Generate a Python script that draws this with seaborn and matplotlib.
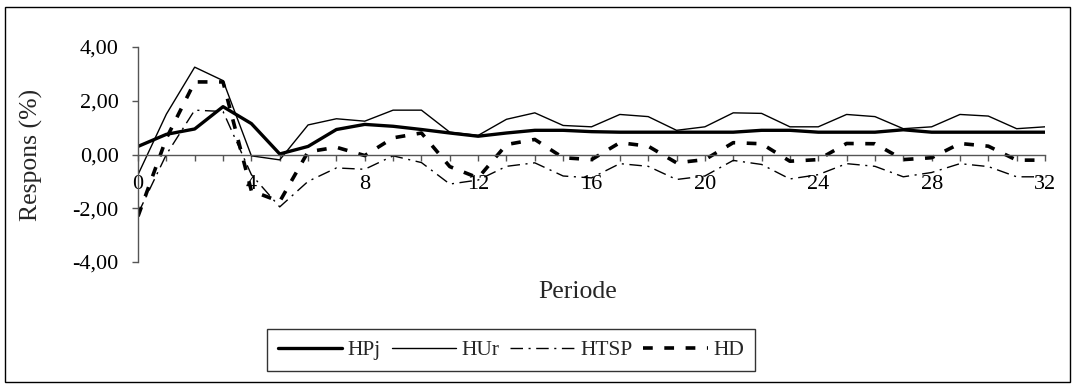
import numpy as np
import pandas as pd
import seaborn as sns
import matplotlib.pyplot as plt
from matplotlib.patches import Rectangle

# Impulse responses, periods 0..32
periode = list(range(33))
hpj = [0.30, 0.75, 0.95, 1.78, 1.15, 0.02, 0.30, 0.93, 1.12, 1.05, 0.93, 0.80, 0.68,
       0.80, 0.90, 0.90, 0.85, 0.83, 0.83, 0.83, 0.83, 0.83, 0.90, 0.90, 0.83, 0.83,
       0.83, 0.92, 0.83, 0.83, 0.83, 0.83, 0.83]
hur = [-0.75, 1.50, 3.25, 2.75, -0.05, -0.20, 1.10, 1.33, 1.24, 1.65, 1.65, 0.83, 0.71,
       1.31, 1.55, 1.08, 1.03, 1.49, 1.41, 0.90, 1.03, 1.55, 1.53, 1.03, 1.03, 1.49,
       1.41, 0.96, 1.03, 1.49, 1.43, 0.96, 1.03]
htsp = [-2.20, 0.00, 1.65, 1.60, -0.75, -1.95, -1.00, -0.50, -0.55, -0.05, -0.30, -1.10,
        -0.95, -0.44, -0.31, -0.80, -0.87, -0.34, -0.44, -0.93, -0.80, -0.22, -0.37,
        -0.91, -0.75, -0.34, -0.44, -0.83, -0.67, -0.34, -0.45, -0.83, -0.83]
hd = [-2.30, 0.60, 2.70, 2.70, -1.35, -1.75, 0.10, 0.27, -0.04, 0.62, 0.80, -0.45, -0.87,
      0.37, 0.56, -0.12, -0.19, 0.44, 0.31, -0.31, -0.19, 0.44, 0.40, -0.25, -0.19,
      0.41, 0.40, -0.19, -0.12, 0.41, 0.31, -0.21, -0.21]

df = pd.DataFrame({'Periode': periode, 'HPj': hpj, 'HUr': hur, 'HTSP': htsp, 'HD': hd})

sns.set_theme(style="white")
plt.rcParams['font.family'] = ['Liberation Serif', 'DejaVu Serif']

W, H = 1074, 385
fig = plt.figure(figsize=(W / 100, H / 100), dpi=100)
fig.patch.set_facecolor('white')

# plot area in pixel coords: x 138..1045, y(4)=47, y(-4)=262
ax = fig.add_axes([138 / W, 1 - 262 / H, (1045 - 138) / W, (262 - 47) / H])
ax.set_facecolor('none')

sns.lineplot(data=df, x='Periode', y='HPj', ax=ax, color='black', linewidth=2.4,
             label='HPj', solid_joinstyle='round')
sns.lineplot(data=df, x='Periode', y='HUr', ax=ax, color='black', linewidth=1.0,
             label='HUr')
sns.lineplot(data=df, x='Periode', y='HTSP', ax=ax, color='black', linewidth=1.0,
             linestyle=(0, (9, 4, 1.5, 4)), label='HTSP')
sns.lineplot(data=df, x='Periode', y='HD', ax=ax, color='black', linewidth=2.6,
             linestyle=(0, (2.7, 3.2)), label='HD')

ax.set_xlim(0, 32)
ax.set_ylim(-4, 4)
ax.set_xlabel('')
ax.set_ylabel('')

# axes: left spine and a horizontal axis crossing at zero
for s in ['top', 'right']:
    ax.spines[s].set_visible(False)
ax.spines['bottom'].set_position(('data', 0))
for s in ['left', 'bottom']:
    ax.spines[s].set_color('#555555')
    ax.spines[s].set_linewidth(1.0)
ax.set_zorder(1)

ax.set_xticks(periode)
ax.set_xticklabels([str(p) if p % 4 == 0 else '' for p in periode])
ax.set_yticks([-4, -2, 0, 2, 4])
ax.set_yticklabels(['-4,00', '-2,00', '0,00', '2,00', '4,00'])
ax.tick_params(axis='x', direction='out', length=4, width=1, color='#555555',
               pad=11, labelsize=16, labelcolor='black', bottom=True)
ax.tick_params(axis='y', direction='out', length=4, width=1, color='#555555',
               pad=10, labelsize=16, labelcolor='black', left=True)
ax.grid(False)

fig.text(31 / W, 1 - 155 / H, 'Respons (%)', rotation=90, ha='center', va='center',
         fontsize=18.5)
fig.text(578 / W, 1 - 292 / H, 'Periode', ha='center', va='center', fontsize=18.5)

leg = ax.legend(loc='center', bbox_to_anchor=(511 / W, 1 - 350 / H),
                bbox_transform=fig.transFigure, ncol=4, frameon=True, fancybox=False,
                fontsize=15.5, handlelength=3.0, handletextpad=0.25, columnspacing=0.5,
                borderpad=0.5, borderaxespad=0)
leg.get_frame().set_edgecolor('black')
leg.get_frame().set_linewidth(1.0)

# outer chart border
fig.patches.append(Rectangle((5 / W, 1 - 382 / H), (1070 - 5) / W, (382 - 7) / H,
                             transform=fig.transFigure, fill=False, edgecolor='black',
                             linewidth=1.0))

fig.savefig('out.png', dpi=100)
